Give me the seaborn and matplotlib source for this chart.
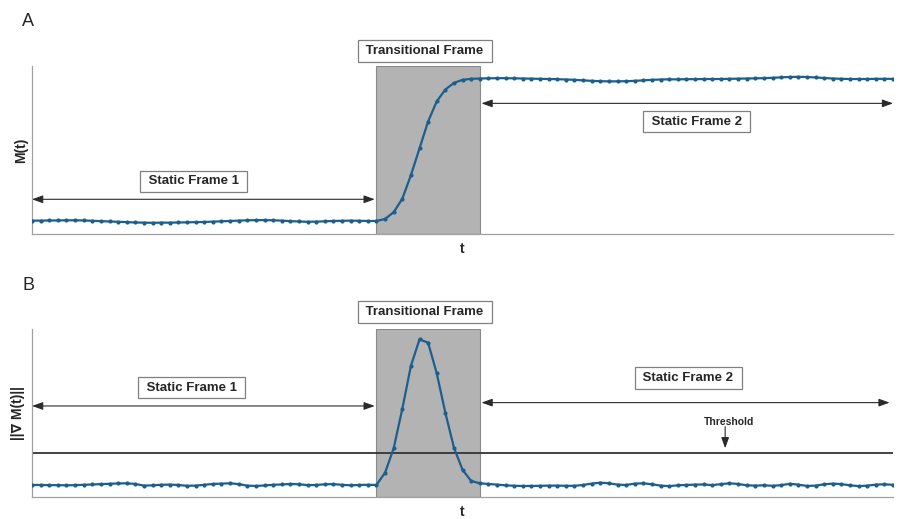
import pandas as pd
import matplotlib.pyplot as plt
import seaborn as sns

# frame index (x) and the two signals
t = list(range(101))

M_values = [
    0.080, 0.080, 0.081, 0.081, 0.082, 0.082, 0.081, 0.079, 0.077, 0.075,
    0.073, 0.071, 0.069, 0.068, 0.067, 0.068, 0.068, 0.069, 0.070, 0.071,
    0.072, 0.074, 0.076, 0.078, 0.080, 0.082, 0.083, 0.083, 0.082, 0.080,
    0.077, 0.075, 0.073, 0.074, 0.076, 0.078, 0.079, 0.080, 0.079, 0.078,
    0.078,
    0.090, 0.130, 0.210, 0.350, 0.510, 0.670, 0.790, 0.860, 0.900, 0.918,
    0.924, 0.926,
    0.927, 0.928, 0.928, 0.927, 0.926, 0.925, 0.924, 0.923, 0.922, 0.920,
    0.918, 0.915, 0.912, 0.910, 0.909, 0.909, 0.910, 0.912, 0.915, 0.918,
    0.920, 0.921, 0.921, 0.922, 0.922, 0.923, 0.923, 0.923, 0.924, 0.925,
    0.926, 0.927, 0.928, 0.930, 0.933, 0.935, 0.936, 0.935, 0.932, 0.929,
    0.926, 0.924, 0.923, 0.923, 0.923, 0.924, 0.924, 0.924,
]

grad_values = [
    0.070, 0.070, 0.069, 0.069, 0.068, 0.069, 0.071, 0.073, 0.075, 0.077,
    0.079, 0.080, 0.076, 0.066, 0.068, 0.071, 0.072, 0.070, 0.065, 0.066,
    0.071, 0.076, 0.078, 0.080, 0.075, 0.066, 0.064, 0.067, 0.071, 0.073,
    0.076, 0.074, 0.069, 0.070, 0.074, 0.075, 0.071, 0.068, 0.070, 0.071,
    0.070, 0.143, 0.289, 0.524, 0.781, 0.940, 0.920, 0.737, 0.502, 0.293,
    0.160, 0.094, 0.080,
    0.076, 0.072, 0.068, 0.065, 0.064, 0.064, 0.065, 0.066, 0.066, 0.065,
    0.065, 0.070, 0.078, 0.084, 0.080, 0.072, 0.070, 0.078, 0.080, 0.074,
    0.066, 0.063, 0.068, 0.070, 0.072, 0.073, 0.069, 0.075, 0.080, 0.076,
    0.068, 0.066, 0.068, 0.065, 0.069, 0.077, 0.072, 0.064, 0.066, 0.074,
    0.078, 0.075, 0.068, 0.063, 0.066, 0.072, 0.074, 0.071,
]

threshold = 0.263
trans_start, trans_end = 40, 52

df = pd.DataFrame({"t": t, "M": M_values, "grad": grad_values})

sns.set_style("white")
plt.rcParams["font.family"] = ["Liberation Sans", "DejaVu Sans"]

line_color = "#1b5f8e"
box = dict(boxstyle="square,pad=0.35", fc="white", ec="#808080", lw=0.9)
arrow = dict(arrowstyle="<|-|>,head_length=0.5,head_width=0.18",
             color="#2a2a2a", lw=0.8, mutation_scale=13, shrinkA=0, shrinkB=0)

fig = plt.figure(figsize=(9, 5.19), dpi=100)
ax1 = fig.add_axes([0.0356, 0.549, 0.9567, 0.3237])
ax2 = fig.add_axes([0.0356, 0.043, 0.9567, 0.3225])

for ax, col in [(ax1, "M"), (ax2, "grad")]:
    ax.axvspan(trans_start, trans_end, color="#b3b3b3", ec="#8a8a8a", lw=0.8, zorder=0)
    sns.lineplot(data=df, x="t", y=col, ax=ax, color=line_color, lw=1.6,
                 marker="o", markersize=3.0, markeredgewidth=0, zorder=3)
    ax.set_xlim(0, 100)
    ax.set_ylim(0, 1)
    ax.set_xticks([])
    ax.set_yticks([])
    ax.set_xlabel("t", fontsize=10, fontweight="bold", labelpad=6)
    for s in ["top", "right"]:
        ax.spines[s].set_visible(False)
    for s in ["left", "bottom"]:
        ax.spines[s].set_color("#a0a0a0")
        ax.spines[s].set_linewidth(0.9)

ax1.set_ylabel("M(t)", fontsize=10, fontweight="bold", labelpad=3)
ax2.set_ylabel("||\u2207 M(t)||", fontsize=10, fontweight="bold", labelpad=5)

# panel A annotations
ax1.text(45.6, 1.089, " Transitional Frame ", ha="center", va="center",
         fontsize=9.5, fontweight="bold", bbox=box, clip_on=False)
ax1.annotate("", xy=(0, 0.207), xytext=(39.8, 0.207), arrowprops=arrow)
ax1.text(18.8, 0.314, " Static Frame 1 ", ha="center", va="center",
         fontsize=9.5, fontweight="bold", bbox=box)
ax1.annotate("", xy=(52.2, 0.778), xytext=(100, 0.778), arrowprops=arrow)
ax1.text(77.2, 0.668, " Static Frame 2 ", ha="center", va="center",
         fontsize=9.5, fontweight="bold", bbox=box)

# panel B annotations
ax2.axhline(threshold, color="#333333", lw=1.3, zorder=2)
ax2.text(45.6, 1.103, " Transitional Frame ", ha="center", va="center",
         fontsize=9.5, fontweight="bold", bbox=box, clip_on=False)
ax2.annotate("", xy=(0, 0.542), xytext=(39.8, 0.542), arrowprops=arrow)
ax2.text(18.5, 0.652, " Static Frame 1 ", ha="center", va="center",
         fontsize=9.5, fontweight="bold", bbox=box)
ax2.annotate("", xy=(52.2, 0.562), xytext=(99.6, 0.562), arrowprops=arrow)
ax2.text(76.2, 0.709, " Static Frame 2 ", ha="center", va="center",
         fontsize=9.5, fontweight="bold", bbox=box)
ax2.text(80.9, 0.448, "Threshold", ha="center", va="center",
         fontsize=7.5, fontweight="bold")
ax2.annotate("", xy=(80.5, 0.289), xytext=(80.5, 0.418),
             arrowprops=dict(arrowstyle="-|>,head_length=0.5,head_width=0.18",
                             color="#2a2a2a", lw=0.8, mutation_scale=13,
                             shrinkA=0, shrinkB=0))

fig.text(0.024, 0.9755, "A", fontsize=13, va="top", ha="left")
fig.text(0.025, 0.467, "B", fontsize=13, va="top", ha="left")

fig.savefig("out.png", dpi=100)
